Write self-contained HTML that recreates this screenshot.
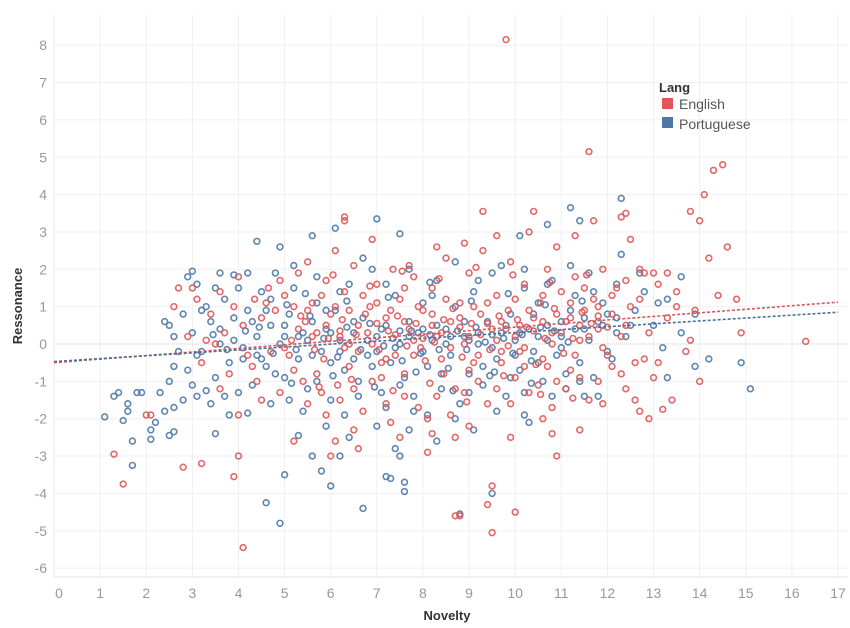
<!DOCTYPE html>
<html><head><meta charset="utf-8">
<style>
html,body{margin:0;padding:0;background:#fff;}
svg{display:block;font-family:"Liberation Sans",sans-serif;}
</style></head>
<body>
<svg id="chart" width="850" height="628" xmlns="http://www.w3.org/2000/svg">
<g id="grid"></g>
<g id="xticks"></g>
<g id="yticks"></g>
<g id="pts"></g>
<g id="trends"></g>
<text x="447" y="620" text-anchor="middle" font-size="13" font-weight="bold" fill="#333">Novelty</text>
<text transform="translate(22,306) rotate(-90)" text-anchor="middle" font-size="13" font-weight="bold" fill="#333">Ressonance</text>
<g>
<text x="659" y="92" font-size="13" font-weight="bold" fill="#333">Lang</text>
<g><rect x="662" y="98" width="11" height="11" fill="#e15759"/><text x="679" y="109" font-size="14" fill="#555">English</text></g>
<g><rect x="662" y="117" width="11" height="11" fill="#4e79a7"/><text x="679" y="129" font-size="14" fill="#555">Portuguese</text></g>
</g>
</svg>
<script>
const xTicks=[0,1,2,3,4,5,6,7,8,9,10,11,12,13,14,15,16,17];
const yTicks=[8,7,6,5,4,3,2,1,0,-1,-2,-3,-4,-5,-6];
const englishPts="9.8,8.15 11.6,5.15 14.5,4.8 14.3,4.65 14.1,4.0 13.8,3.55 14.0,3.3 14.6,2.6 14.2,2.3 12.4,3.5 12.3,3.4 11.7,3.3 10.4,3.55 9.3,3.55 6.3,3.3 6.3,3.4 4.1,-5.45 1.5,-3.75 1.3,-2.95 2.8,-3.3 3.2,-3.2 4.0,-3.0 3.9,-3.55 9.5,-5.05 9.5,-3.8 10.0,-4.5 8.7,-4.6 8.8,-4.6 9.4,-4.3 10.9,-3.0 10.8,-2.4 16.3,0.07 14.9,0.3 14.8,1.2 14.0,-1.0 13.2,-1.75 12.7,-1.8 12.9,-2.0 12.6,-1.5 11.9,-1.6 8.1,-2.9 8.7,-2.5 7.5,-2.5 6.6,-2.8 6.0,-3.0 6.1,-2.6 5.2,-2.6 4.5,-1.5 2.0,-1.9 2.1,-1.9 "+
"3.0,1.5 3.1,1.2 2.7,1.5 2.9,0.2 3.2,-0.5 3.4,0.8 3.6,1.4 3.7,0.3 3.8,-0.8 3.9,1.0 4.0,1.8 4.1,0.5 4.2,-0.3 4.35,1.2 4.4,-1.0 4.5,0.7 4.65,1.5 4.7,-0.2 4.8,0.9 4.9,-1.3 5.0,1.3 5.15,0.1 5.2,-0.7 5.3,1.9 5.45,0.6 5.5,-1.6 5.6,1.1 5.7,0.3 5.85,-0.4 5.9,1.7 6.0,0.8 6.15,-1.1 6.2,0.2 6.3,1.4 6.4,-0.6 6.5,2.1 6.6,0.5 6.7,-1.8 6.85,1.0 6.9,0.0 7.0,1.6 7.1,-0.9 7.2,0.7 7.35,2.0 7.4,-0.3 7.5,1.2 7.6,-1.4 7.7,0.4 7.8,1.8 7.95,-0.1 8.0,0.9 8.1,-2.0 8.2,1.5 8.3,0.2 8.45,-0.8 8.5,2.3 8.6,0.6 8.7,-1.2 8.8,1.1 8.9,0.0 9.0,1.9 9.1,-0.5 9.25,0.8 9.3,2.5 9.4,-1.6 9.5,0.4 9.6,1.3 9.7,-0.2 9.85,0.9 9.9,2.2 10.0,-0.9 10.1,0.5 10.2,1.6 10.3,-1.3 10.4,0.7 10.55,1.1 10.6,-0.4 10.7,2.0 10.8,0.3 10.9,-1.0 11.0,1.4 11.1,0.6 11.2,-0.7 11.3,1.8 11.4,0.1 11.5,0.9 11.6,-1.5 11.7,1.2 11.8,0.4 11.9,2.0 12.0,-0.3 12.1,0.8 12.2,1.5 12.3,-0.8 12.4,0.5 12.5,1.0 12.6,-0.5 12.8,1.9 12.9,0.3 13.0,-0.9 13.1,1.6 13.3,0.7 13.5,1.4 13.7,-0.2 13.8,0.1 13.9,0.9 "+
"5.3,0.4 5.6,0.2 5.9,0.5 6.2,0.35 6.4,0.0 6.6,-0.2 6.8,0.3 7.0,0.55 7.2,-0.4 7.4,0.25 7.6,0.6 7.8,-0.3 8.0,0.15 8.2,0.5 8.4,0.3 8.6,-0.1 8.8,0.45 9.0,0.2 9.2,-0.3 9.4,0.55 9.6,0.1 9.8,0.4 10.0,0.2 10.2,-0.1 10.4,0.35 10.6,0.6 10.8,0.0 11.0,0.3 11.2,0.7 11.4,0.5 11.6,0.2 11.8,0.75 12.0,0.45 5.5,2.2 6.1,2.5 6.9,2.8 7.7,2.1 8.3,2.6 8.9,2.7 9.6,2.9 10.3,3.0 10.9,2.6 11.3,2.9 12.5,2.8 12.7,2.0 13.3,1.9 13.5,1.0 14.4,1.3 13.0,1.9 "+
"5.1,-0.3 5.4,-1.0 5.8,-1.3 6.2,-1.5 6.5,-1.2 6.9,-1.0 7.2,-1.6 7.6,-0.8 7.9,-1.7 8.3,-1.4 8.6,-1.9 8.9,-1.3 9.2,-1.0 9.6,-1.2 9.9,-1.6 10.2,-0.6 10.5,-1.1 10.8,-1.7 11.1,-1.2 11.4,-0.9 11.8,-1.0 12.1,-0.6 12.4,-1.2 12.8,-0.4 13.1,-0.5 13.4,-1.5 4.3,-0.6 4.0,-1.9 3.6,-1.2 3.5,0.0 3.3,0.1 2.6,1.0 "+
"4.6,1.1 4.9,1.7 5.2,1.0 5.5,0.9 5.8,1.3 6.1,1.0 6.4,0.9 6.7,1.3 7.0,1.1 7.3,0.9 7.6,1.5 7.9,1.0 8.2,0.8 8.5,1.2 8.8,0.7 9.1,1.0 9.4,1.1 9.7,0.6 10.0,1.2 10.3,0.9 10.6,1.3 10.9,0.8 11.2,1.1 11.5,1.5 11.8,1.0 12.1,1.3 12.4,1.7 12.7,1.2 5.0,-0.1 5.7,-0.8 6.3,-0.1 7.1,-0.5 7.8,0.1 8.4,-0.4 9.0,-0.7 9.7,-0.5 10.1,-0.2 10.7,-0.6 11.3,-0.3 11.9,-0.1 12.3,0.2 8.2,-2.4 7.3,-2.1 9.0,-2.2 9.9,-2.5 6.5,-2.3 5.9,-1.9 10.6,-2.0 11.4,-2.3 "+
"5.35,0.75 5.65,-0.15 5.95,0.15 6.25,0.65 6.55,0.25 6.75,0.8 7.05,-0.15 7.25,0.35 7.45,0.75 7.65,-0.05 7.85,0.55 8.05,-0.45 8.25,0.05 8.45,0.65 8.65,0.95 8.85,-0.35 9.05,0.55 9.25,0.25 9.45,-0.15 9.65,0.75 9.85,-0.05 10.05,0.65 10.25,0.45 10.45,-0.55 10.65,0.15 10.85,0.95 11.05,-0.25 11.25,0.15 11.45,0.85 11.65,0.55 6.05,1.85 6.85,1.55 7.55,1.95 8.35,1.75 9.15,2.05 9.95,1.85 10.75,1.65 11.55,1.85 5.75,-1.15 6.45,-0.95 7.35,-1.25 8.15,-1.05 8.95,-1.55 9.75,-0.85 10.55,-1.35 11.25,-1.45";
const portuguesePts="1.1,-1.95 1.4,-1.3 1.3,-1.4 1.5,-2.05 1.6,-1.8 1.7,-2.6 1.7,-3.25 1.6,-1.6 1.8,-1.3 1.9,-1.3 2.1,-2.3 2.1,-2.55 2.2,-2.1 2.4,-1.8 2.5,-2.45 2.6,-2.35 2.3,-1.3 2.5,-1.0 3.5,-2.4 3.8,-1.9 4.6,-4.25 4.9,-4.8 5.0,-3.5 5.3,-2.45 6.0,-3.8 5.8,-3.4 5.6,-3.0 6.2,-3.0 6.7,-4.4 7.2,-3.55 7.3,-3.6 7.6,-3.7 7.6,-3.95 7.5,-3.0 7.4,-2.8 7.7,-2.3 8.8,-4.55 9.5,-4.0 13.2,-0.1 13.3,-0.9 13.9,-0.6 14.2,-0.4 14.9,-0.5 15.1,-1.2 13.6,0.3 13.9,0.8 12.3,3.9 11.2,3.65 10.1,2.9 10.7,3.2 11.4,3.3 7.0,3.35 4.4,2.75 5.6,2.9 6.1,3.1 7.5,2.95 3.0,1.95 2.9,1.8 3.6,1.9 3.9,1.85 4.9,2.6 11.8,-1.4 11.5,-1.4 10.2,-1.9 10.3,-2.1 4.2,-1.85 3.3,-1.25 3.1,-1.4 "+
"2.4,0.6 2.5,0.5 2.6,0.2 2.7,-0.2 2.8,0.8 2.9,-0.7 3.0,0.3 3.1,1.6 3.2,-0.2 3.3,1.0 3.4,0.6 3.5,-0.9 3.6,0.4 3.7,1.2 3.8,-0.5 3.9,0.7 4.0,1.5 4.1,-0.1 4.2,0.9 4.3,-1.1 4.4,0.2 4.5,1.4 4.6,-0.6 4.7,0.5 4.8,1.9 4.9,0.0 5.0,-0.9 5.1,0.8 5.2,1.5 5.3,-0.4 5.4,0.3 5.5,-1.2 5.6,0.6 5.7,1.8 5.8,-0.2 5.9,0.4 6.0,-1.5 6.1,0.9 6.2,0.1 6.3,-0.7 6.4,1.6 6.5,0.3 6.6,-1.0 6.7,0.7 6.8,-0.3 6.9,2.0 7.0,0.2 7.1,-1.3 7.2,0.5 7.3,-0.5 7.4,1.3 7.5,0.0 7.6,-0.9 7.7,0.6 7.8,-1.8 7.9,0.3 8.0,1.1 8.1,-0.6 8.2,0.1 8.3,1.7 8.4,-1.2 8.5,0.4 8.6,-0.3 8.7,1.0 8.8,-1.6 8.9,0.2 9.0,-0.8 9.1,1.4 9.2,0.0 9.3,-1.1 9.4,0.6 9.5,1.9 9.6,-0.4 9.7,0.3 9.8,-1.4 9.9,0.8 10.0,0.1 10.1,-0.7 10.2,1.5 10.3,0.4 10.4,-0.2 10.5,1.1 10.6,-1.0 10.7,0.5 10.8,1.7 10.9,-0.3 11.0,0.2 11.1,-1.2 11.2,0.9 11.3,1.3 11.4,-0.5 11.5,0.4 11.6,1.9 11.7,-0.9 11.8,0.6 11.9,1.1 12.0,-0.2 12.1,-0.4 12.2,0.7 12.3,2.4 12.4,0.2 12.6,0.9 12.8,1.4 13.0,0.5 13.3,1.2 13.6,1.8 "+
"3.0,-1.1 2.8,-1.5 2.6,-1.7 3.4,-1.6 3.7,-1.4 4.0,-1.3 4.5,-0.4 4.8,-0.8 5.1,-1.5 5.4,-1.8 5.7,-1.0 6.0,-0.5 6.3,-1.9 6.6,-1.4 6.9,-0.6 7.2,-1.7 7.5,-1.1 7.8,-1.4 8.1,-1.9 8.4,-0.8 8.7,-2.0 9.0,-1.3 9.3,-0.6 9.6,-1.8 9.9,-0.9 10.2,-1.3 10.5,-0.5 10.8,-1.4 11.1,-0.8 11.4,-1.0 3.2,0.9 3.5,1.5 3.9,0.1 4.3,0.6 4.6,0.9 5.0,0.5 5.3,0.2 5.6,-0.3 5.9,0.9 6.2,-0.2 6.5,0.6 6.8,0.1 7.1,0.4 7.4,-0.1 7.7,0.2 8.0,-0.2 8.3,0.5 8.6,0.2 8.9,0.6 9.2,0.3 9.5,-0.1 9.8,0.5 10.1,0.3 10.4,0.8 10.7,0.1 11.0,0.6 11.3,0.4 11.6,0.1 11.9,0.5 12.2,0.3 "+
"4.2,1.9 4.7,1.2 5.2,2.1 5.7,1.1 6.2,1.4 6.7,2.3 7.2,1.6 7.7,2.0 8.2,1.3 8.7,2.2 9.2,1.7 9.7,2.1 10.2,2.0 10.7,1.6 11.2,2.1 11.7,1.4 12.2,1.6 12.7,1.9 13.1,1.1 2.6,-0.6 3.1,-0.3 3.6,0.0 4.1,-0.4 4.4,-0.3 5.0,0.2 5.5,0.1 6.0,0.3 6.5,-0.4 7.0,-0.2 7.5,0.35 8.0,0.4 8.5,0.0 9.0,0.1 9.5,0.25 10.0,-0.3 10.5,0.2 11.0,-0.1 11.5,0.7 12.0,0.8 12.5,0.5 6.4,-2.5 7.0,-2.2 8.3,-2.6 9.1,-2.3 5.9,-2.2 4.7,-1.6 "+
"4.45,0.45 4.75,-0.25 5.05,1.05 5.25,-0.15 5.55,0.75 5.85,0.15 6.15,-0.35 6.35,0.45 6.65,-0.15 6.85,0.55 7.15,-0.05 7.35,0.15 7.55,-0.45 7.75,0.35 7.95,-0.25 8.15,0.25 8.35,-0.15 8.55,-0.65 8.75,0.35 8.95,-0.15 9.15,0.45 9.35,0.05 9.55,-0.75 9.75,0.15 9.95,-0.25 10.15,0.25 10.35,-0.45 10.55,0.45 10.85,0.35 11.15,0.05 3.45,0.25 3.75,-0.15 4.15,0.35 5.15,-1.05 6.05,-0.85 6.95,-1.15 7.85,-0.75 8.65,-1.25 9.45,-0.85 10.35,-1.05 5.45,1.35 6.35,1.15 7.25,1.25 8.15,1.65 9.05,1.15 9.85,1.35 10.65,1.05 11.45,1.15";
const engTrend=[-0.5,1.12];
const porTrend=[-0.47,0.85];

const L=54,R=838,T=15,B=577;
function xs(v){return L+(v-0)*(R-L)/17;}
function ys(v){return 344-v*37.35;}
const NS="http://www.w3.org/2000/svg";
function mk(tag,attrs,parent){const e=document.createElementNS(NS,tag);for(const k in attrs)e.setAttribute(k,attrs[k]);parent.appendChild(e);return e;}
const grid=document.getElementById('grid'),xg=document.getElementById('xticks'),yg=document.getElementById('yticks');
xTicks.forEach(t=>{
  const l=mk('line',{x1:xs(t),x2:xs(t),y1:T,y2:B,stroke:t===0?'#e6e6e6':'#f0f0f0','stroke-width':1},grid);
  
  
  const tx=mk('text',{x:xs(t)+(t===0?5:0),y:598,'text-anchor':'middle','font-size':14,fill:'#999'},xg);
  tx.textContent=t;
  
  
});
yTicks.forEach(t=>{
  const l=mk('line',{x1:L,x2:848,y1:ys(t),y2:ys(t),stroke:'#f0f0f0','stroke-width':1,'stroke-dasharray':t===0?'1,1':'none'},grid);
  if(t===0)l.setAttribute('stroke','#ccc');
  
  
  const tx=mk('text',{x:47,y:ys(t)+5,'text-anchor':'end','font-size':14,fill:'#999'},yg);
  tx.textContent=t;
  
  
});
const axl=mk('line',{x1:L,x2:848,y1:B,y2:B,stroke:'#e6e6e6'},grid);


const pg=document.getElementById('pts');
function draw(str,color,name){
  str.trim().split(/\s+/).forEach(p=>{const [a,b]=p.split(',').map(Number);
    const c=mk('circle',{cx:xs(a),cy:ys(b),r:2.9,fill:'none',stroke:color,'stroke-width':1.6,'stroke-opacity':0.9},pg);
    
    
  });
}
draw(portuguesePts,'#4e79a7','point-portuguese');
draw(englishPts,'#e15759','point-english');
const tg=document.getElementById('trends');
const t1=mk('line',{x1:xs(0),y1:ys(engTrend[0]),x2:xs(17),y2:ys(engTrend[1]),stroke:'#d9575a','stroke-width':1.6,'stroke-dasharray':'3,2'},tg);


const t2=mk('line',{x1:xs(0),y1:ys(porTrend[0]),x2:xs(17),y2:ys(porTrend[1]),stroke:'#4e6f9a','stroke-width':1.6,'stroke-dasharray':'3,2'},tg);


</script>
</body></html>
